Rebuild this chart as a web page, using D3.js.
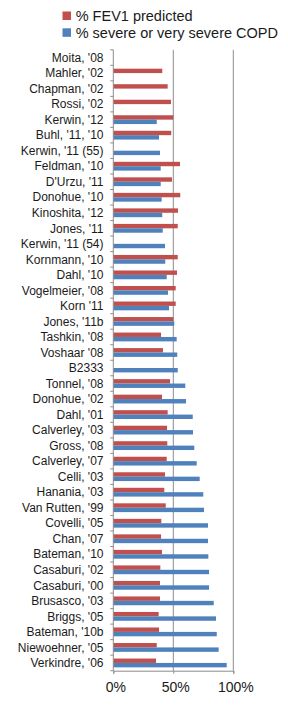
<!DOCTYPE html>
<html><head><meta charset="utf-8">
<script src="https://cdn.jsdelivr.net/npm/d3@7"></script>
<style>body{margin:0;background:#fff}svg{display:block}</style>
</head><body><svg id="c" width="288" height="715"></svg>
<script>
const categories = ["Moita, '08","Mahler, '02","Chapman, '02","Rossi, '02","Kerwin, '12","Buhl, '11, '10","Kerwin, '11 (55)","Feldman,  '10","D'Urzu, '11","Donohue, '10","Kinoshita, '12","Jones, '11","Kerwin, '11 (54)","Kornmann, '10","Dahl, '10","Vogelmeier, '08","Korn '11","Jones, '11b","Tashkin, '08","Voshaar '08","B2333","Tonnel, '08","Donohue, '02","Dahl, '01","Calverley, '03","Gross, '08","Calverley, '07","Celli, '03","Hanania, '03","Van Rutten, '99","Covelli, '05","Chan, '07","Bateman, '10","Casaburi, '02","Casaburi, '00","Brusasco, '03","Briggs, '05","Bateman, '10b","Niewoehner, '05","Verkindre, '06"];
const fev1 = [null,40.8,45.3,48.1,50,48.3,null,55.6,48.9,55.8,53.9,53.7,null,53.7,53.1,52,52,50,39.8,41.4,null,47.3,40.6,45.3,44.8,45,44.5,43.1,42.5,43.7,40,39.8,40.6,39.2,38.9,38.9,37.8,38.1,36.2,35.6];
const severe = [null,null,null,null,36.2,38.1,38.9,39.5,39.5,40.3,40.8,41.2,43.1,43.3,44.5,45.6,46.4,50.8,52.8,53.3,53.7,60,60.6,66.2,66.4,67.5,69.5,72,75,75.6,78.9,78.9,79.2,79.8,79.8,83.7,85.6,86.2,87.8,94.5];
const seriesNames = ["% FEV1 predicted","% severe or very severe COPD"];
const seriesColors = ["#C0504D","#4F81BD"];
const xTicks = [0,50,100];

const svg = d3.select("#c");
const font = "'Liberation Sans', Arial, Helvetica, sans-serif";
const x = d3.scaleLinear().domain([0,100]).range([113.3,233.3]);
const y = d3.scaleBand().domain(categories).range([49.8,670.7]);
const bh = 4.4;

// gridlines
svg.append("g").selectAll("line").data(xTicks.slice(1)).join("line")
  .attr("x1",d=>x(d)).attr("x2",d=>x(d))
  .attr("y1",y.range()[0]).attr("y2",y.range()[1])
  .attr("stroke","#8c8c8c").attr("stroke-width",1);

const series = [fev1, severe];
series.forEach((vals,si)=>{
  svg.append("g").selectAll("rect")
    .data(categories.map((c,i)=>({c,v:vals[i]})).filter(d=>d.v!=null))
    .join("rect")
    .attr("x",x(0))
    .attr("y",d=>y(d.c)+y.bandwidth()/2 - bh + si*bh)
    .attr("width",d=>x(d.v)-x(0))
    .attr("height",bh)
    .attr("fill",seriesColors[si]);
});

// y axis
const yAxisG = svg.append("g");
yAxisG.append("line").attr("x1",x(0)).attr("x2",x(0))
  .attr("y1",y.range()[0]).attr("y2",y.range()[1]).attr("stroke","#8c8c8c");
const bounds = d3.range(categories.length+1).map(i=>y.range()[0]+i*y.step());
yAxisG.selectAll("line.t").data(bounds).join("line").attr("class","t")
  .attr("x1",x(0)-3).attr("x2",x(0)).attr("y1",d=>d).attr("y2",d=>d)
  .attr("stroke","#8c8c8c");
yAxisG.selectAll("text").data(categories).join("text")
  .attr("x",103.5).attr("y",d=>y(d)+y.bandwidth()/2+4.2)
  .attr("text-anchor","end").attr("font-family",font).attr("font-size",12)
  .attr("fill","#1a1a1a").text(d=>d);

// x axis
const xAxis = d3.axisBottom(x).tickValues(xTicks).tickFormat(d=>d+"%").tickSize(3).tickPadding(8);
const xg = svg.append("g").attr("transform",`translate(0,${y.range()[1]})`).call(xAxis);
xg.select(".domain").attr("stroke","#8c8c8c");
xg.selectAll(".tick line").attr("stroke","#8c8c8c");
xg.selectAll(".tick text").attr("font-family",font).attr("font-size",14).attr("fill","#1a1a1a")
  .attr("dx",2);

// legend
const lg = svg.append("g");
seriesNames.forEach((n,i)=>{
  lg.append("rect").attr("x",62.5).attr("y",11.5+i*16.8).attr("width",8.5).attr("height",8.5).attr("fill",seriesColors[i]);
  lg.append("text").attr("x",75.7).attr("y",20.8+i*16.8).attr("font-family",font).attr("font-size",14.5)
    .attr("fill","#1a1a1a").text(n);
});
</script></body></html>
